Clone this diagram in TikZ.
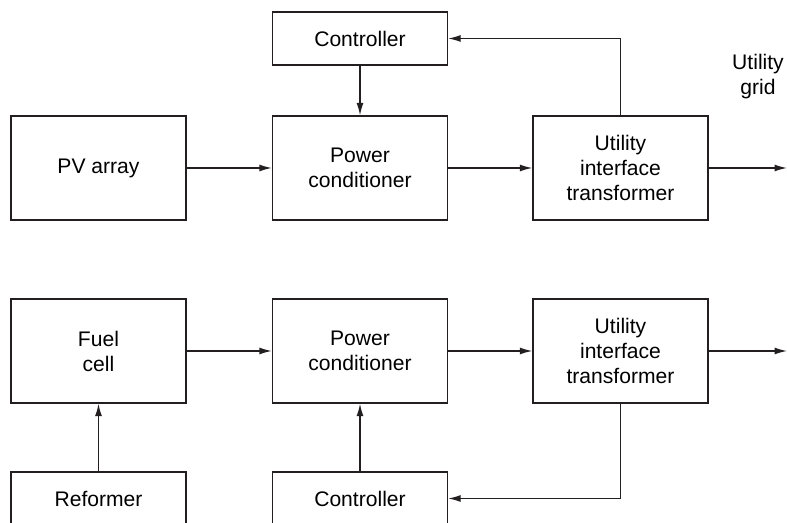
\documentclass[tikz,border=0pt]{standalone}
\usepackage{fontspec}
\setmainfont{Liberation Sans}
\usetikzlibrary{arrows.meta,positioning,calc}
\definecolor{traitgris}{RGB}{35,31,32}
\tikzset{bloc/.style={rectangle,draw=traitgris,line width=0.75pt,minimum width=3.5cm,minimum height=2.08cm,align=center,font=\fontsize{12}{14.2}\selectfont},
  petitbloc/.style={bloc,minimum height=1.06cm},
  fleche/.style={draw=traitgris,line width=0.75pt,-{Latex[length=2.5mm,width=1.4mm]}},
  retour/.style={draw=traitgris,line width=0.75pt,-{Latex[length=2.5mm,width=1.4mm]}}}

\begin{document}
\begin{tikzpicture}[scale=1.0]

\useasboundingbox (0,0) rectangle (15.74,10.46);

% chaine photovoltaique
\node[petitbloc] (C1) at (7.2,9.69) {Controller};
\node[bloc] (PV) at (1.97,7.10) {PV array};
\node[bloc] (PC1) at (7.2,7.10) {Power\\conditioner};
\node[bloc] (T1) at (12.41,7.10) {Utility\\interface\\transformer};
\node[align=center,font=\fontsize{12}{14.2}\selectfont] (grid) at (15.16,8.93) {Utility\\grid};
\coordinate (S1) at (15.74,7.10);

\draw[fleche] (PV) -- (PC1);
\draw[fleche] (PC1) -- (T1);
\draw[fleche] (T1) -- (S1);
\draw[fleche] (C1) -- (PC1);
\draw[retour] (T1.north) |- (C1.east);

% chaine pile a combustible
\node[bloc] (FC) at (1.97,3.44) {Fuel\\cell};
\node[bloc] (PC2) at (7.2,3.44) {Power\\conditioner};
\node[bloc] (T2) at (12.41,3.44) {Utility\\interface\\transformer};
\node[petitbloc] (RF) at (1.97,0.49) {Reformer};
\node[petitbloc] (C2) at (7.2,0.49) {Controller};
\coordinate (S2) at (15.74,3.44);

\draw[fleche] (FC) -- (PC2);
\draw[fleche] (PC2) -- (T2);
\draw[fleche] (T2) -- (S2);
\draw[fleche] (RF) -- (FC);
\draw[fleche] (C2) -- (PC2);
\draw[retour] (T2.south) |- (C2.east);

\end{tikzpicture}
\end{document}
